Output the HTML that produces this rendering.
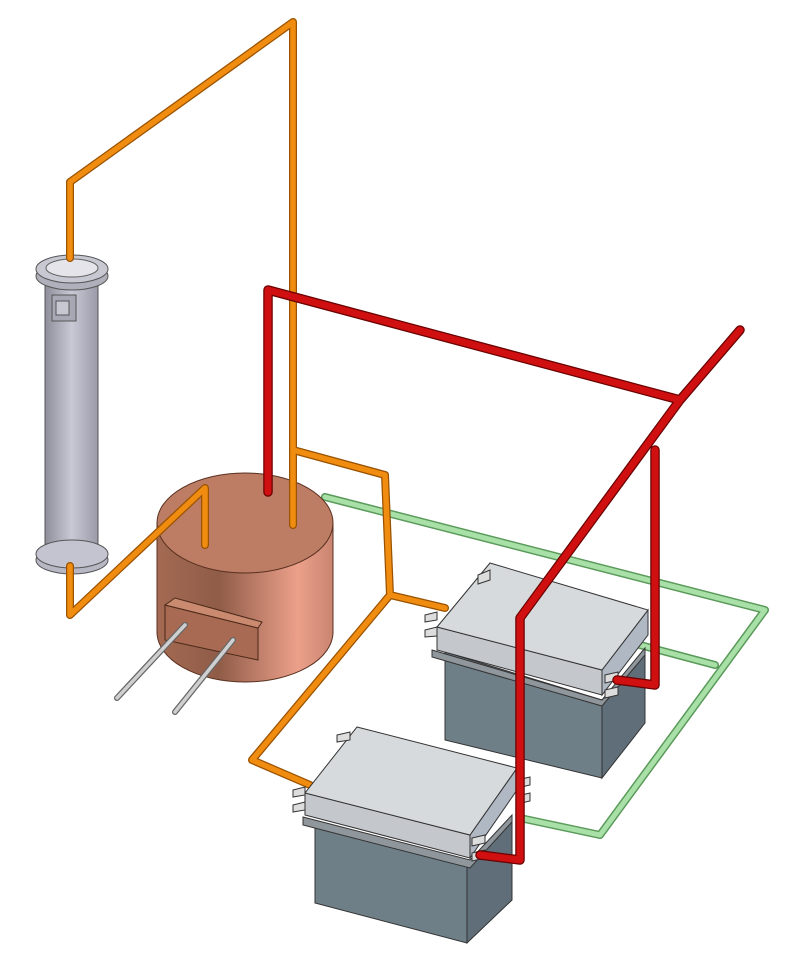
<!DOCTYPE html>
<html><head><meta charset="utf-8"><style>html,body{margin:0;padding:0;background:#fff}svg{display:block}</style></head>
<body>
<svg width="800" height="965" viewBox="0 0 800 965" xmlns="http://www.w3.org/2000/svg">
<defs>
<linearGradient id="col" x1="0" x2="1"><stop offset="0" stop-color="#8e8e9a"/><stop offset="0.5" stop-color="#c9c9d6"/><stop offset="1" stop-color="#9a9aa8"/></linearGradient>
<linearGradient id="tank" x1="0" x2="1"><stop offset="0" stop-color="#a46a52"/><stop offset="0.35" stop-color="#8f5c48"/><stop offset="0.8" stop-color="#eca08a"/><stop offset="1" stop-color="#c98570"/></linearGradient>
</defs>
<g fill="none" stroke-linecap="round" stroke-linejoin="round">
<path d="M325,497 L765,610 L600,835 L520,818 M640,645 L715,665" stroke="#5a9a5a" stroke-width="8"/>
<path d="M325,497 L765,610 L600,835 L520,818 M640,645 L715,665" stroke="#a8e0a8" stroke-width="5"/>
</g>

<!-- column -->
<ellipse cx="72" cy="560" rx="36" ry="14" fill="#b8b8c4" stroke="#555" stroke-width="1"/>
<rect x="45" y="275" width="53" height="285" fill="url(#col)" stroke="#555" stroke-width="1"/>
<ellipse cx="72" cy="554" rx="36" ry="14" fill="#c4c4d0" stroke="#555" stroke-width="1"/>
<rect x="52" y="295" width="24" height="26" fill="#a8a8b4" stroke="#555" stroke-width="1"/>
<rect x="56" y="301" width="13" height="14" fill="#c8c8d2" stroke="#555" stroke-width="1"/>
<ellipse cx="72" cy="276" rx="36" ry="14" fill="#b0b0bc" stroke="#555" stroke-width="1"/>
<ellipse cx="72" cy="269" rx="36" ry="14" fill="#c8c8d2" stroke="#555" stroke-width="1"/>
<ellipse cx="72" cy="268" rx="26" ry="9" fill="#e4e4ea" stroke="#666" stroke-width="1"/>

<!-- tank -->
<path d="M157,523 L157,632 A88,50 0 0 0 333,632 L333,523 Z" fill="url(#tank)" stroke="#5a3020" stroke-width="1"/>
<ellipse cx="245" cy="523" rx="88" ry="50" fill="#bc7d64" stroke="#5a3020" stroke-width="1"/>
<polygon points="165,605 258,628 258,660 165,640" fill="#a86a52" stroke="#4a2818" stroke-width="1"/>
<polygon points="165,605 175,598 262,622 258,628" fill="#c98a70" stroke="#4a2818" stroke-width="1"/>
<g stroke-linecap="round">
<line x1="185" y1="625" x2="117" y2="698" stroke="#666" stroke-width="6"/>
<line x1="185" y1="625" x2="117" y2="698" stroke="#cfcfcf" stroke-width="3.5"/>
<line x1="233" y1="640" x2="175" y2="712" stroke="#666" stroke-width="6"/>
<line x1="233" y1="640" x2="175" y2="712" stroke="#cfcfcf" stroke-width="3.5"/>
</g>

<g fill="none" stroke-linecap="round" stroke-linejoin="round">
<path d="M70,258 L70,182 L293,22 L293,525 M70,566 L70,615 L205,488 L205,545 M293,450 L385,475 L390,595 L445,608 M390,595 L252,760 L310,785" stroke="#9a5200" stroke-width="8"/>
<path d="M70,258 L70,182 L293,22 L293,525 M70,566 L70,615 L205,488 L205,545 M293,450 L385,475 L390,595 L445,608 M390,595 L252,760 L310,785" stroke="#f08c10" stroke-width="5.5"/>
</g>

<!-- box 1 -->
<g stroke="#333" stroke-width="1">
<polygon points="445,652 602,700 602,778 445,740" fill="#6f7f88"/>
<polygon points="602,700 645,650 645,723 602,778" fill="#5f6e78"/>
<polygon points="432,650 602,700 645,648 645,655 602,706 432,657" fill="#8f969c"/>
<polygon points="437,627 602,670 602,695 437,650" fill="#c4c8cc"/>
<polygon points="602,670 648,610 648,635 602,695" fill="#b0b8c4"/>
<polygon points="490,563 648,610 602,670 437,627" fill="#d6dadc"/>
<polygon points="478,575 490,570 490,580 478,584" fill="#ddd"/>
<polygon points="425,615 437,612 437,620 425,622" fill="#ddd"/>
<polygon points="425,630 437,627 437,636 425,637" fill="#ddd"/>
<polygon points="605,675 618,672 618,680 605,683" fill="#ddd"/>
<polygon points="605,690 618,687 618,695 605,698" fill="#ddd"/>
</g>
<!-- box 2 -->
<g stroke="#333" stroke-width="1">
<polygon points="315,822 467,865 467,943 315,903" fill="#6f7f88"/>
<polygon points="467,865 512,820 512,900 467,943" fill="#5f6e78"/>
<polygon points="303,817 470,860 512,815 512,822 470,868 303,825" fill="#8f969c"/>
<polygon points="305,793 470,835 470,858 305,815" fill="#c4c8cc"/>
<polygon points="470,835 517,768 517,790 470,858" fill="#b0b8c4"/>
<polygon points="357,727 517,768 470,835 305,793" fill="#d6dadc"/>
<polygon points="337,735 350,732 350,740 337,742" fill="#ddd"/>
<polygon points="293,790 305,787 305,795 293,797" fill="#ddd"/>
<polygon points="293,805 305,802 305,810 293,812" fill="#ddd"/>
<polygon points="472,838 485,835 485,843 472,846" fill="#ddd"/>
<polygon points="472,853 485,850 485,858 472,861" fill="#ddd"/>
<polygon points="517,780 530,777 530,785 517,788" fill="#ddd"/>
<polygon points="517,796 530,793 530,801 517,804" fill="#ddd"/>
</g>
<!-- red -->
<g fill="none" stroke-linecap="round" stroke-linejoin="round">
<path d="M268,492 L268,290 L680,400 L740,330 M680,400 L520,618 L520,860 L480,855 M655,450 L655,685 L617,680" stroke="#6a0000" stroke-width="9.5"/>
<path d="M268,492 L268,290 L680,400 L740,330 M680,400 L520,618 L520,860 L480,855 M655,450 L655,685 L617,680" stroke="#d01010" stroke-width="7"/>
</g>
</svg>
</body></html>
